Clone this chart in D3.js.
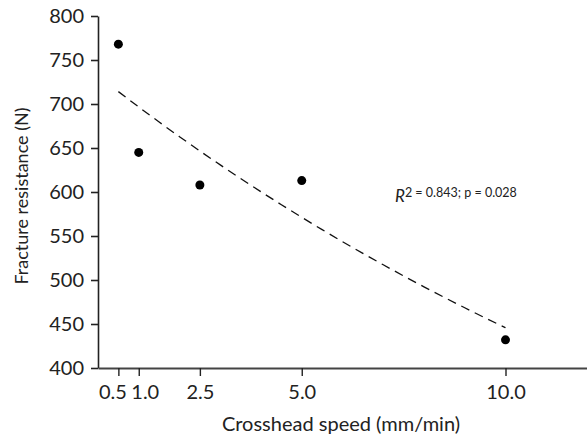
<!DOCTYPE html>
<html>
<head>
<meta charset="utf-8">
<script src="https://cdn.jsdelivr.net/npm/d3@7"></script>
<style>
  html, body { margin: 0; padding: 0; background: #fff; }
  text { font-family: "Lato", "DejaVu Sans", sans-serif; fill: #222; }
</style>
</head>
<body>
<div id="chart"></div>
<script>
// data
const speeds = [0.5, 1.0, 2.5, 5.0, 10.0];
const resistance = [768, 645, 608, 613, 432];
const xTicks = [0.5, 1.0, 2.5, 5.0, 10.0];
const yTicks = [400, 450, 500, 550, 600, 650, 700, 750, 800];
// exponential trend y = a * exp(b * x), coefficients estimated from the dashed curve
const fitA = 732;
const fitB = -0.0496;
const fitX = [0.5, 1, 1.5, 2, 2.5, 3, 3.5, 4, 4.5, 5, 5.5, 6, 6.5, 7, 7.5, 8, 8.5, 9, 9.5, 10];

const width = 587,
    height = 437;

const svg = d3.select("#chart")
  .append("svg")
    .attr("width", width)
    .attr("height", height);

const x = d3.scaleLinear()
  .domain([0, 12])
  .range([98, 587]);

const y = d3.scaleLinear()
  .domain([400, 800])
  .range([368, 16]);

// y axis
const yAxis = svg.append("g")
  .attr("transform", "translate(98,0)")
  .call(d3.axisLeft(y).tickValues(yTicks).tickSize(7).tickPadding(7).tickSizeOuter(0));
yAxis.select(".domain").attr("stroke", "#222").attr("stroke-width", 1.6);
yAxis.selectAll(".tick line").attr("stroke", "#222").attr("stroke-width", 1.6);
yAxis.selectAll(".tick text").style("font-size", "20px").attr("fill", "#222");

// x axis
const xAxis = svg.append("g")
  .attr("transform", "translate(0,368)")
  .call(d3.axisBottom(x).tickValues(xTicks).tickFormat(d3.format(".1f")).tickSize(8).tickPadding(9).tickSizeOuter(0));
xAxis.select(".domain").attr("stroke", "#444").attr("stroke-width", 2);
xAxis.selectAll(".tick line").attr("stroke", "#222").attr("stroke-width", 1.4);
xAxis.selectAll(".tick text")
  .style("font-size", "20px")
  .attr("fill", "#222")
  // the two first labels sit close together, nudge them apart as in the figure
  .attr("dx", d => d === 0.5 ? -6 : d === 1.0 ? 6 : 0);

// trend line
const line = d3.line()
  .x(d => x(d))
  .y(d => y(fitA * Math.exp(fitB * d)))
  .curve(d3.curveMonotoneX);

svg.append("path")
  .datum(fitX)
  .attr("d", line)
  .attr("fill", "none")
  .attr("stroke", "#111")
  .attr("stroke-width", 1.3)
  .attr("stroke-dasharray", "9,6");

// points
svg.selectAll("circle")
  .data(speeds)
  .join("circle")
  .attr("cx", d => x(d))
  .attr("cy", (d, i) => y(resistance[i]))
  .attr("r", 4.5)
  .attr("fill", "#000");

// axis titles
svg.append("text")
  .attr("text-anchor", "middle")
  .attr("x", 341)
  .attr("y", 431)
  .style("font-size", "20px")
  .text("Crosshead speed (mm/min)");

svg.append("text")
  .attr("text-anchor", "middle")
  .attr("transform", "translate(28,196)rotate(-90)")
  .style("font-size", "18px")
  .text("Fracture resistance (N)");

// annotation
const note = svg.append("text")
  .attr("x", 395)
  .attr("y", 202);
note.append("tspan")
  .style("font-size", "17px")
  .style("font-style", "italic")
  .text("R");
note.append("tspan")
  .attr("dy", -5)
  .style("font-size", "12.5px")
  .text("2 = 0.843; p = 0.028");
</script>
</body>
</html>
